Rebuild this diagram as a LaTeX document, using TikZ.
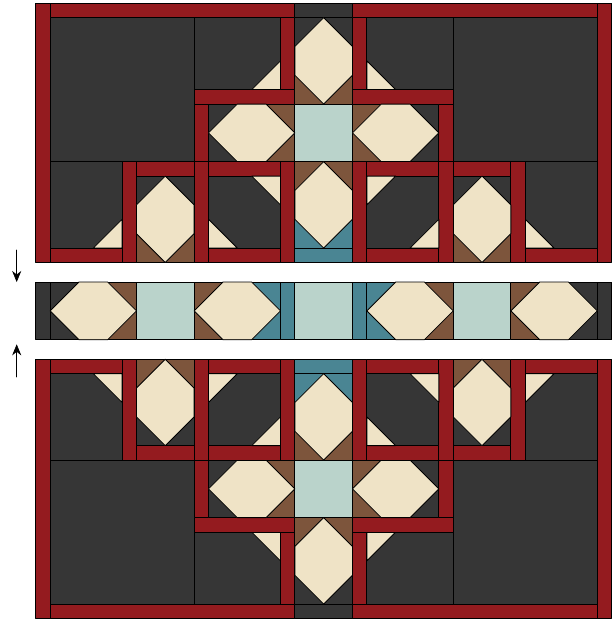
\documentclass[tikz,border=0pt]{standalone}
\usepackage{xcolor}
\usepackage{tikz}
\usetikzlibrary{arrows.meta}
\definecolor{sashred}{RGB}{148,27,31}
\definecolor{groundgray}{RGB}{54,54,54}
\definecolor{starcream}{RGB}{239,227,198}
\definecolor{rustbrown}{RGB}{125,85,60}
\definecolor{palesea}{RGB}{186,211,203}
\definecolor{deepsea}{RGB}{74,133,147}
\tikzset{
  every picture/.style={line join=round, line cap=round, >=Stealth},
  patch/.style={draw=black, line width=0.8pt},
  sash/.style={patch, fill=sashred},
  ground/.style={patch, fill=groundgray},
  cream/.style={patch, fill=starcream},
  rust/.style={patch, fill=rustbrown},
  pale/.style={patch, fill=palesea},
  sea/.style={patch, fill=deepsea},
}
\newcommand{\vblock}[4]{%
  \begin{scope}[shift={(#1,#2)}]
    \draw[#3] (0,0) rectangle (4,3);
    \draw[#4] (0,3) rectangle (4,6);
    \draw[cream] (2,0) -- (4,2) -- (4,4) -- (2,6) -- (0,4) -- (0,2) -- cycle;
  \end{scope}}
\newcommand{\hblock}[4]{%
  \begin{scope}[shift={(#1,#2)}]
    \draw[#3] (0,0) rectangle (3,4);
    \draw[#4] (3,0) rectangle (6,4);
    \draw[cream] (0,2) -- (2,0) -- (4,0) -- (6,2) -- (4,4) -- (2,4) -- cycle;
  \end{scope}}

\begin{document}
\begin{tikzpicture}[x=0.5cm,y=-0.5cm]
\useasboundingbox (-2.48,-0.23) rectangle (40.23,42.83);
\foreach \ys/\yo in {1/0,-1/42.72}{
  \begin{scope}[shift={(0,\yo)},yscale=\ys]
    \draw[ground] (18,0) rectangle (22,1);
    \vblock{18}{1}{ground}{rust}
    \draw[pale] (18,7) rectangle (22,11);
    \vblock{18}{11}{rust}{sea}
    \draw[sea] (18,17) rectangle (22,18);
    \foreach \xs/\xo in {1/0,-1/40}{
      \begin{scope}[shift={(\xo,0)},xscale=\xs]
        \draw[ground] (1,1) rectangle (11,11);
        \draw[ground] (11,1) rectangle (17,6);
        \draw[cream] (15,6) -- (17,6) -- (17,4) -- cycle;
        \draw[sash] (17,1) rectangle (18,6);
        \draw[sash] (11,6) rectangle (18,7);
        \draw[sash] (11,7) rectangle (12,11);
        \hblock{12}{7}{ground}{rust}
        \draw[ground] (1,11) rectangle (6,17);
        \draw[cream] (4,17) -- (6,17) -- (6,15) -- cycle;
        \draw[sash] (1,17) rectangle (6,18);
        \draw[sash] (6,11) rectangle (7,18);
        \draw[sash] (7,11) rectangle (11,12);
        \vblock{7}{12}{ground}{rust}
        \draw[sash] (11,11) rectangle (12,18);
        \draw[sash] (12,11) rectangle (17,12);
        \draw[ground] (12,12) rectangle (17,17);
        \draw[cream] (15,12) -- (17,12) -- (17,14) -- cycle;
        \draw[cream] (12,15) -- (12,17) -- (14,17) -- cycle;
        \draw[sash] (12,17) rectangle (17,18);
        \draw[sash] (17,11) rectangle (18,18);
        \draw[sash] (0,0) rectangle (1,18);
        \draw[sash] (1,0) rectangle (18,1);
      \end{scope}}
  \end{scope}}
\begin{scope}[shift={(0,19.36)}]
  \draw[pale] (18,0) rectangle (22,4);
  \foreach \xs/\xo in {1/0,-1/40}{
    \begin{scope}[shift={(\xo,0)},xscale=\xs]
      \draw[ground] (0,0) rectangle (1,4);
      \hblock{1}{0}{ground}{rust}
      \draw[pale] (7,0) rectangle (11,4);
      \hblock{11}{0}{rust}{sea}
      \draw[sea] (17,0) rectangle (18,4);
    \end{scope}}
\end{scope}
\coordinate (downtail) at (-1.32,17.13);
\coordinate (downtip) at (-1.32,19.36);
\coordinate (uptail) at (-1.32,25.95);
\coordinate (uptip) at (-1.32,23.68);
\draw[-{Stealth[length=11pt,width=9pt]},line width=0.7pt] (downtail) -- (downtip);
\draw[-{Stealth[length=11pt,width=9pt]},line width=0.7pt] (uptail) -- (uptip);
\end{tikzpicture}
\end{document}
